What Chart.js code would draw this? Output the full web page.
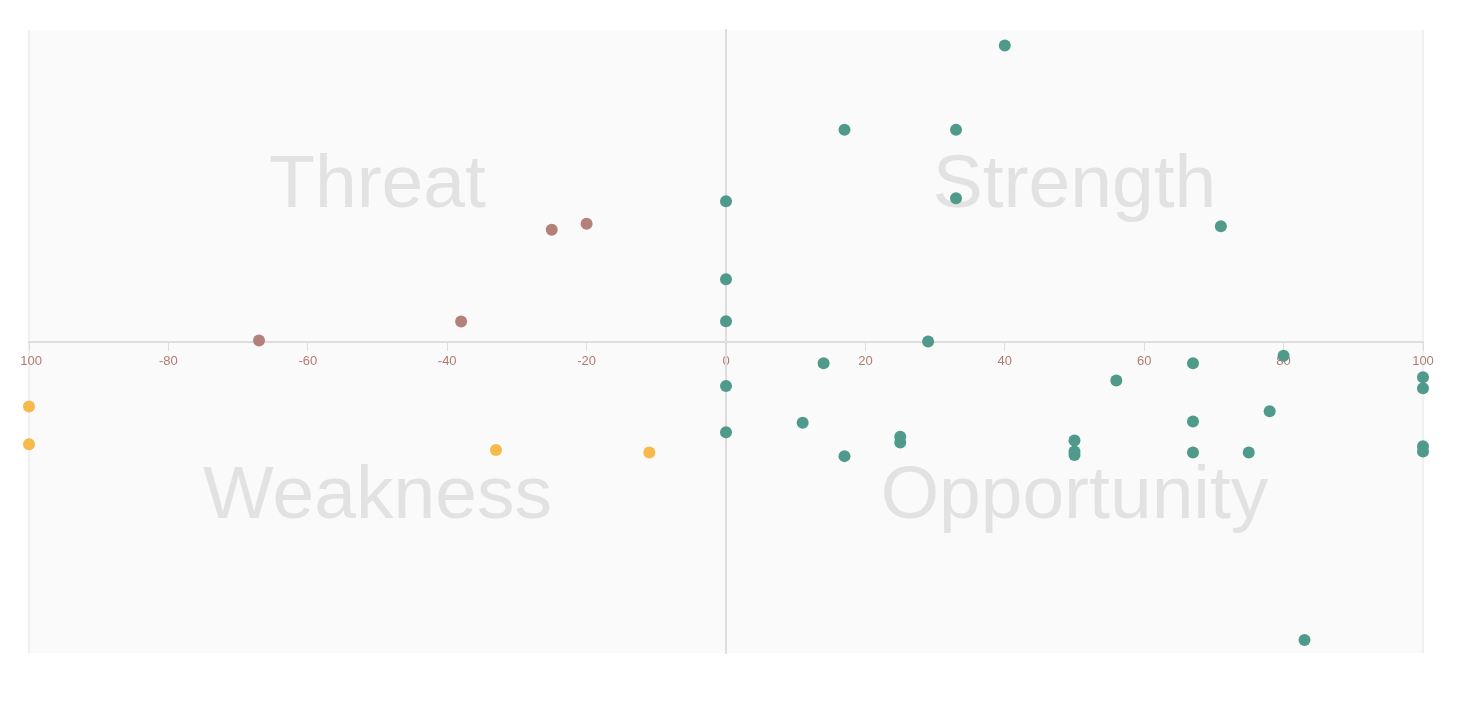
<!DOCTYPE html>
<html>
<head>
<meta charset="utf-8">
<script src="https://cdn.jsdelivr.net/npm/chart.js@4.4.1/dist/chart.umd.min.js"></script>
<style>
  html, body { margin: 0; padding: 0; background: #ffffff; }
  #swot { display: block; clip-path: inset(0 0 0 20px); }
</style>
</head>
<body>
<canvas id="swot" width="1466" height="710"></canvas>
<script>
// 強み・機会 (teal)
var positiveX = [40, 17, 33, 33, 0, 71, 0, 0, 29, 14, 67, 80, 56, 100, 100, 0, 78, 67, 11, 0, 25, 25, 50, 50, 50, 17, 67, 75, 100, 100, 83];
var positiveY = [95, 68, 68, 46, 45, 37, 20, 6.5, 0, -7, -7, -4.6, -12.5, -11.5, -15, -14.3, -22.4, -25.7, -26.1, -29.1, -30.6, -32.4, -31.8, -35.3, -36.4, -36.8, -35.6, -35.6, -33.6, -35.3, -95.8];
// 脅威 (brown)
var threatX = [-20, -25, -38, -67];
var threatY = [37.8, 35.9, 6.4, 0.3];
// 弱み (orange)
var weaknessX = [-100, -100, -33, -11];
var weaknessY = [-20.9, -33, -34.8, -35.6];

var xTicks = [-100, -80, -60, -40, -20, 0, 20, 40, 60, 80, 100];

var quadrants = [
  { text: "Threat",      x: -50, y: 50 },
  { text: "Strength",    x: 50,  y: 50 },
  { text: "Weakness",    x: -50, y: -50 },
  { text: "Opportunity", x: 50,  y: -50 }
];

function toPoints(xs, ys) {
  return xs.map(function (x, i) { return { x: x, y: ys[i] }; });
}

// 背景と象限ラベル
var quadrantPlugin = {
  id: "quadrants",
  beforeDraw: function (chart) {
    var ctx = chart.ctx;
    var a = chart.chartArea;
    var xs = chart.scales.x;
    var ys = chart.scales.y;
    ctx.save();
    ctx.fillStyle = "#fafafa";
    ctx.fillRect(a.left, a.top, a.right - a.left, a.bottom - a.top);
    ctx.strokeStyle = "#f0f0f0";
    ctx.lineWidth = 2;
    ctx.beginPath();
    ctx.moveTo(a.left, a.top); ctx.lineTo(a.left, a.bottom);
    ctx.moveTo(a.right, a.top); ctx.lineTo(a.right, a.bottom);
    ctx.stroke();

    var size = 75;
    ctx.font = size + "px 'Liberation Sans', Arial, sans-serif";
    ctx.fillStyle = "#e2e2e2";
    ctx.textAlign = "center";
    ctx.textBaseline = "alphabetic";
    quadrants.forEach(function (q) {
      ctx.fillText(q.text, xs.getPixelForValue(q.x), ys.getPixelForValue(q.y) + size * 0.28);
    });
    ctx.restore();
  }
};

function swotchart() {
  var options = {
    responsive: false,
    animation: false,
    layout: {
      padding: { left: 29, top: 30, right: 43, bottom: 57 }
    },
    plugins: {
      legend: { display: false },
      tooltip: { enabled: false }
    },
    scales: {
      x: {
        type: "linear",
        min: -100,
        max: 100,
        position: { y: 0 },
        afterBuildTicks: function (axis) {
          axis.ticks = xTicks.map(function (v) { return { value: v }; });
        },
        ticks: {
          color: "#b27b72",
          font: { size: 13, family: "'Liberation Sans', Arial, sans-serif" },
          padding: 4,
          maxRotation: 0
        },
        grid: {
          drawOnChartArea: false,
          drawTicks: true,
          tickLength: 8,
          color: "#dddddd"
        },
        border: { color: "#dddddd", width: 2 }
      },
      y: {
        type: "linear",
        min: -100,
        max: 100,
        position: { x: 0 },
        ticks: { display: false },
        grid: { display: false },
        border: { color: "#dddddd", width: 2 }
      }
    }
  };

  var ctx = document.getElementById("swot").getContext("2d");
  new Chart(ctx, {
    type: "scatter",
    data: {
      datasets: [
        {
          label: "Strength / Opportunity",
          data: toPoints(positiveX, positiveY),
          backgroundColor: "#4f9a8b",
          borderWidth: 0,
          pointRadius: 6,
          clip: false
        },
        {
          label: "Threat",
          data: toPoints(threatX, threatY),
          backgroundColor: "#b3807a",
          borderWidth: 0,
          pointRadius: 6,
          clip: false
        },
        {
          label: "Weakness",
          data: toPoints(weaknessX, weaknessY),
          backgroundColor: "#f6b94a",
          borderWidth: 0,
          pointRadius: 6,
          clip: false
        }
      ]
    },
    options: options,
    plugins: [quadrantPlugin]
  });
}

swotchart();
</script>
</body>
</html>
